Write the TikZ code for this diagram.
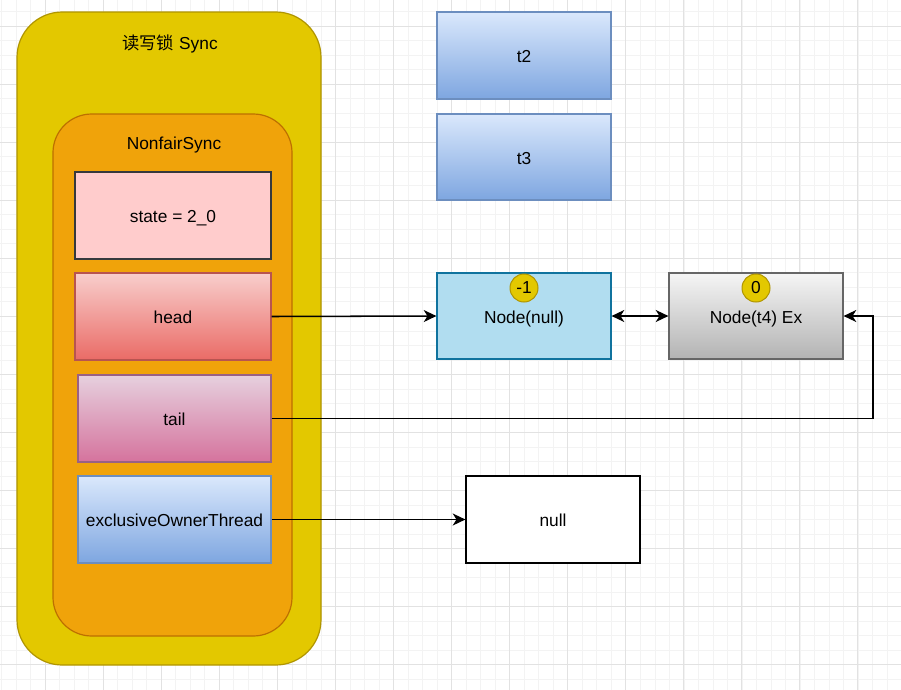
\documentclass[tikz,border=0pt]{standalone}
\usepackage{fontspec}
\setmainfont{Liberation Sans}
\newfontfamily\cjk{Noto Sans CJK SC}
\usetikzlibrary{arrows.meta}
\definecolor{gminor}{HTML}{F3F3F3}
\definecolor{gmajor}{HTML}{E2E2E2}
\definecolor{yfill}{HTML}{E3C800}
\definecolor{ystroke}{HTML}{B09500}
\definecolor{ofill}{HTML}{F0A30A}
\definecolor{ostroke}{HTML}{BD7000}
\definecolor{statefill}{HTML}{FFCCCC}
\definecolor{statestroke}{HTML}{36393D}
\definecolor{redtop}{HTML}{F8CECC}
\definecolor{redbot}{HTML}{EA6B66}
\definecolor{redstroke}{HTML}{B85450}
\definecolor{pinktop}{HTML}{E6D0DE}
\definecolor{pinkbot}{HTML}{D5739D}
\definecolor{pinkstroke}{HTML}{996185}
\definecolor{bluetop}{HTML}{DAE8FC}
\definecolor{bluebot}{HTML}{7EA6E0}
\definecolor{bluestroke}{HTML}{6C8EBF}
\definecolor{cyanfill}{HTML}{B1DDF0}
\definecolor{cyanstroke}{HTML}{10739E}
\definecolor{graytop}{HTML}{F5F5F5}
\definecolor{graybot}{HTML}{B3B3B3}
\definecolor{graystroke}{HTML}{666666}
\tikzset{
  txt/.style={font=\fontsize{13}{15}\selectfont, text=black},
  box/.style={txt, rectangle, inner sep=0pt, line width=0.9pt, text height=11pt, text depth=0pt},
  bluebox/.style={box, draw=bluestroke, top color=bluetop, bottom color=bluebot},
  badge/.style={txt, circle, draw=ystroke, fill=yfill, minimum size=21pt, inner sep=0pt, line width=0.75pt},
  arr/.style={line width=1.15pt, -{Stealth[length=9.5pt,width=9pt,inset=2.8pt]}},
  darr/.style={line width=1.15pt, {Stealth[length=9.5pt,width=9pt,inset=2.8pt]}-{Stealth[length=9.5pt,width=9pt,inset=2.8pt]}},
}
\begin{document}
\begin{tikzpicture}[x=0.75pt,y=-0.75pt]
\useasboundingbox (0,0) rectangle (901,690);
\fill[white] (0,0) rectangle (901,690);
% grid
\foreach \i in {0,...,61} \draw[gminor, line width=0.6pt] ({1.5+14.52*\i},0) -- ({1.5+14.52*\i},690);
\foreach \i in {0,...,47} \draw[gminor, line width=0.6pt] (0,{-3.04+14.52*\i}) -- (901,{-3.04+14.52*\i});
\foreach \i in {0,...,14} \draw[gmajor, line width=0.75pt] ({45+58.07*\i},0) -- ({45+58.07*\i},690);
\foreach \i in {0,...,11} \draw[gmajor, line width=0.75pt] (0,{26+58.07*\i}) -- (901,{26+58.07*\i});

% containers
\node[box, draw=ystroke, fill=yfill, rounded corners=34pt, minimum width=304*0.75pt, minimum height=653*0.75pt] (sync) at (169,338.5) {};
\node[txt] (synct) at (170,43.5) {{\cjk 读写锁} Sync};
\node[box, draw=ostroke, fill=ofill, rounded corners=29pt, minimum width=239*0.75pt, minimum height=522*0.75pt] (nonfair) at (172.5,375) {};
\node[txt] (nonfairt) at (174,145.5) {NonfairSync};

% fields
\node[box, draw=statestroke, fill=statefill, minimum width=196*0.75pt, minimum height=87*0.75pt] (state) at (173,215.5) {state = 2\_0};
\node[box, draw=redstroke, top color=redtop, bottom color=redbot, minimum width=196*0.75pt, minimum height=87*0.75pt] (head) at (173,316.5) {head};
\node[box, draw=pinkstroke, top color=pinktop, bottom color=pinkbot, minimum width=193*0.75pt, minimum height=87*0.75pt] (tail) at (174.5,418.5) {tail};
\node[bluebox, minimum width=193*0.75pt, minimum height=87*0.75pt] (eot) at (174.5,519.5) {exclusiveOwnerThread};

% threads
\node[bluebox, minimum width=174*0.75pt, minimum height=87*0.75pt] (t2) at (524,55.5) {t2};
\node[bluebox, minimum width=174*0.75pt, minimum height=86*0.75pt] (t3) at (524,157) {t3};

% queue nodes
\node[box, draw=cyanstroke, fill=cyanfill, minimum width=174*0.75pt, minimum height=86*0.75pt] (nnull) at (524,316) {Node(null)};
\node[badge] (b1) at (524,288) {-1};
\node[box, draw=graystroke, top color=graytop, bottom color=graybot, minimum width=174*0.75pt, minimum height=86*0.75pt] (nt4) at (756,316) {Node(t4) Ex};
\node[badge] (b0) at (756,288) {0};

\node[box, draw=black, fill=white, minimum width=174*0.75pt, minimum height=87*0.75pt] (null) at (553,519.5) {null};

% connectors
\coordinate (turn) at (873,316);
\draw[arr] (head.east) -- (nnull.west);
\draw[darr] (nnull.east) -- (nt4.west);
\draw[arr] (tail.east) -| (turn) -- (nt4.east);
\draw[arr] (eot.east) -- (null.west);
\end{tikzpicture}
\end{document}
